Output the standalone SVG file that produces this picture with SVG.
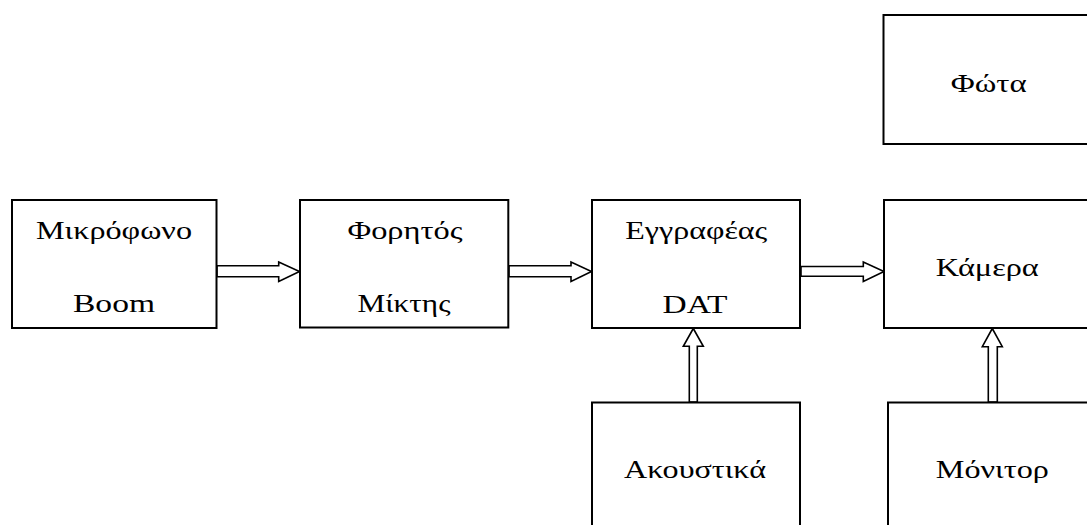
<svg xmlns="http://www.w3.org/2000/svg" width="1087" height="525" viewBox="0 0 1087 525">
<style>
.box{fill:#fff;stroke:#000;stroke-width:2}
.arr{fill:#fff;stroke:#000;stroke-width:1.6;stroke-linejoin:miter}
text{font-family:"Liberation Serif","Times New Roman",serif;font-size:26px;fill:#000;text-anchor:middle}
</style>
<rect width="1087" height="525" fill="#fff"/>
<g id="connectors">
<polygon class="arr" points="217,265.7 278.7,265.7 278.7,262 299.5,271.5 278.7,281.5 278.7,276.7 217,276.7"/>
<polygon class="arr" points="509,265.7 571,265.7 571,262 591.5,271.5 571,281.5 571,276.7 509,276.7"/>
<polygon class="arr" points="801,266.5 863.3,266.5 863.3,262 884,271.5 863.3,281.5 863.3,276.3 801,276.3"/>
<polygon class="arr" points="689.3,402 689.3,346.3 683.3,346.3 693.3,328.5 703.3,346.3 697.3,346.3 697.3,402"/>
<polygon class="arr" points="988.3,402 988.3,346.7 982.3,346.7 992.3,328.5 1002.3,346.7 997.3,346.7 997.3,402"/>
</g>
<g id="n-mikrofono"><rect class="box" x="12" y="200" width="204.5" height="128"/><text x="114" y="239" textLength="156" lengthAdjust="spacingAndGlyphs">Μικρόφωνο</text><text x="114" y="312" textLength="82" lengthAdjust="spacingAndGlyphs">Boom</text></g>
<g id="n-fortitos"><rect class="box" x="300" y="200" width="208.3" height="127.5"/><text x="405" y="239" textLength="115" lengthAdjust="spacingAndGlyphs">Φορητός</text><text x="404" y="312" textLength="93" lengthAdjust="spacingAndGlyphs">Μίκτης</text></g>
<g id="n-eggrafeas"><rect class="box" x="592" y="200" width="208" height="128"/><text x="696.3" y="238.5" textLength="142" lengthAdjust="spacingAndGlyphs">Εγγραφέας</text><text x="695" y="312.5" textLength="65" lengthAdjust="spacingAndGlyphs">DAT</text></g>
<g id="n-kamera"><rect class="box" x="884" y="200" width="220" height="128"/><text x="987.3" y="276" textLength="103" lengthAdjust="spacingAndGlyphs">Κάμερα</text></g>
<g id="n-fota"><rect class="box" x="883.5" y="15" width="220" height="129"/><text x="988.7" y="91.5" textLength="76" lengthAdjust="spacingAndGlyphs">Φώτα</text></g>
<g id="n-akoustika"><rect class="box" x="592" y="402.5" width="208" height="140"/><text x="695" y="477.5" textLength="142" lengthAdjust="spacingAndGlyphs">Ακουστικά</text></g>
<g id="n-monitor"><rect class="box" x="888" y="402.5" width="220" height="140"/><text x="992.3" y="478.3" textLength="113" lengthAdjust="spacingAndGlyphs">Μόνιτορ</text></g>
</svg>
